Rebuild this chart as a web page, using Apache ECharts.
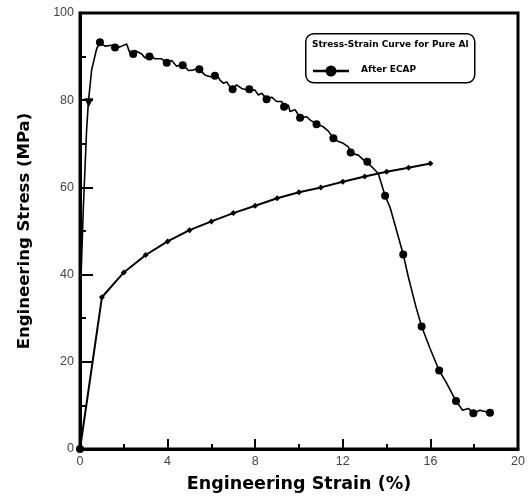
<!DOCTYPE html>
<html><head><meta charset="utf-8">
<script src="https://cdn.jsdelivr.net/npm/echarts@6/dist/echarts.min.js"></script>
<style>html,body{margin:0;padding:0;background:#fff}#c{width:532px;height:497px}</style>
</head><body><div id="c"></div>
<script>
// ECAP curve (strain %, stress MPa)
const ecapStrain = [0,0.05,0.15,0.3,0.38,0.53,0.76,0.91,1.14,1.45,1.67,1.9,2.13,2.28,2.51,2.82,2.97,3.2,3.42,3.73,3.96,4.19,4.41,4.67,4.95,5.17,5.4,5.7,5.94,6.24,6.39,6.54,6.7,6.93,7.15,7.38,7.69,7.99,8.14,8.3,8.52,8.75,8.98,9.21,9.36,9.51,9.59,9.82,10.05,10.35,10.5,10.81,11.11,11.34,11.57,11.8,12.02,12.25,12.41,12.71,12.94,13.16,13.39,13.62,13.93,14.16,14.49,14.76,14.99,15.34,15.6,15.98,16.4,16.74,17.17,17.47,17.73,17.96,18.26,18.72];
const ecapStress = [0,40,55,73,79.4,86.9,91.8,93.2,92.4,92.6,92.0,92.4,92.9,90.8,91.4,90.6,89.7,90.4,89.5,89.5,88.5,89.1,87.8,88.3,86.8,86.9,87.3,85.8,85.4,86.0,84.6,83.9,84.2,82.4,83.5,82.7,82.3,82.3,81.2,81.6,80.3,80.7,79.7,79.7,78.3,78.9,77.4,77.8,76.0,76.2,75.5,74.5,73.9,72.9,71.3,70.5,70.1,69.3,67.8,67.4,66.3,65.5,64.4,63.2,58.1,55.4,49.5,44.6,39.5,32.6,28.1,23.1,18.0,15.1,11.0,8.9,9.3,8.2,8.9,8.3];
// circle markers on the ECAP curve
const markStrain = [0,0.91,1.6,2.43,3.17,3.96,4.69,5.45,6.16,6.97,7.73,8.52,9.32,10.05,10.8,11.57,12.36,13.12,13.93,14.76,15.6,16.4,17.17,17.96,18.72];
const markStress = [0,93.3,92.1,90.6,90.0,88.6,88.0,87.1,85.6,82.5,82.5,80.2,78.5,76.0,74.5,71.3,68.0,65.9,58.1,44.6,28.1,18.0,11.0,8.2,8.3];
const triStrain = [0.4];
const triStress = [79.4];
// second curve with diamond markers
const curve2Strain = [0,1,2,3,4,5,6,7,8,9,10,11,12,13,14,15,16];
const curve2Stress = [0,34.8,40.5,44.5,47.6,50.2,52.2,54.1,55.8,57.5,58.9,60.0,61.3,62.5,63.6,64.5,65.5];

const xTicks = [0,4,8,12,16,20];
const yTicks = [0,20,40,60,80,100];
const legendTitle = 'Stress-Strain Curve for Pure Al';
const legendName = 'After ECAP';

const zip = (a,b) => a.map((v,i)=>[v,b[i]]);
const chart = echarts.init(document.getElementById('c'), null, {renderer:'canvas'});
const tickFont = {fontFamily:'Liberation Sans, Arial, sans-serif', fontSize:12.5, color:'#444'};
const titleFont = 'DejaVu Sans, sans-serif';
chart.setOption({
  animation:false,
  backgroundColor:'#fff',
  grid:{left:80, right:14, top:13, bottom:48, outerBoundsMode:'none', containLabel:false,
        show:true, borderColor:'#000', borderWidth:3, backgroundColor:'transparent'},
  xAxis:{type:'value', min:0, max:20, interval:4,
    name:'Engineering Strain (%)', nameLocation:'middle', nameGap:26,
    nameTextStyle:{fontFamily:titleFont, fontSize:17.5, fontWeight:'bold', color:'#000', verticalAlign:'top'},
    axisLine:{show:true, lineStyle:{color:'#000', width:3}},
    axisTick:{show:true, inside:true, length:10, lineStyle:{color:'#000', width:2}},
    minorTick:{show:true, splitNumber:2, length:5, lineStyle:{color:'#000', width:2}},
    splitLine:{show:false},
    axisLabel:Object.assign({margin:6, formatter:v=>xTicks.includes(v)?String(v):''}, tickFont)},
  yAxis:{type:'value', min:0, max:100, interval:20,
    name:'Engineering Stress (MPa)', nameLocation:'middle', nameGap:47,
    nameTextStyle:{fontFamily:titleFont, fontSize:16.5, fontWeight:'bold', color:'#000'},
    axisLine:{show:true, lineStyle:{color:'#000', width:3}},
    axisTick:{show:true, inside:true, length:13, lineStyle:{color:'#000', width:2}},
    minorTick:{show:true, splitNumber:2, length:6, lineStyle:{color:'#000', width:2}},
    splitLine:{show:false},
    axisLabel:Object.assign({margin:6, formatter:v=>yTicks.includes(v)?String(v):''}, tickFont)},
  series:[
    {type:'line', name:legendName, data:zip(ecapStrain, ecapStress), symbol:'none',
     lineStyle:{color:'#000', width:1.6}, z:3},
    {type:'scatter', data:zip(markStrain, markStress), symbol:'circle', symbolSize:8,
     itemStyle:{color:'#000', opacity:1}, z:4},
    {type:'scatter', data:zip(triStrain, triStress), symbol:'triangle', symbolRotate:180, symbolSize:9,
     itemStyle:{color:'#000', opacity:1}, z:4},
    {type:'line', name:'curve2', data:zip(curve2Strain, curve2Stress), symbol:'diamond', symbolSize:6,
     showAllSymbol:true, itemStyle:{color:'#000', opacity:1}, lineStyle:{color:'#000', width:2}, z:3}
  ],
  graphic:[
    {type:'rect', left:305, top:33, shape:{width:169, height:49, r:8},
     style:{fill:'#fff', stroke:'#000', lineWidth:1.5}, z:10},
    {type:'text', left:312, top:40, style:{text:legendTitle, font:'bold 9px DejaVu Sans, sans-serif', fill:'#000'}, z:11},
    {type:'line', shape:{x1:313, y1:71, x2:349, y2:71}, style:{stroke:'#000', lineWidth:2.5}, z:11},
    {type:'circle', shape:{cx:331, cy:71, r:5.5}, style:{fill:'#000'}, z:11},
    {type:'text', left:361, top:65.5, style:{text:legendName, font:'bold 9px DejaVu Sans, sans-serif', fill:'#000'}, z:11}
  ]
});
</script></body></html>
